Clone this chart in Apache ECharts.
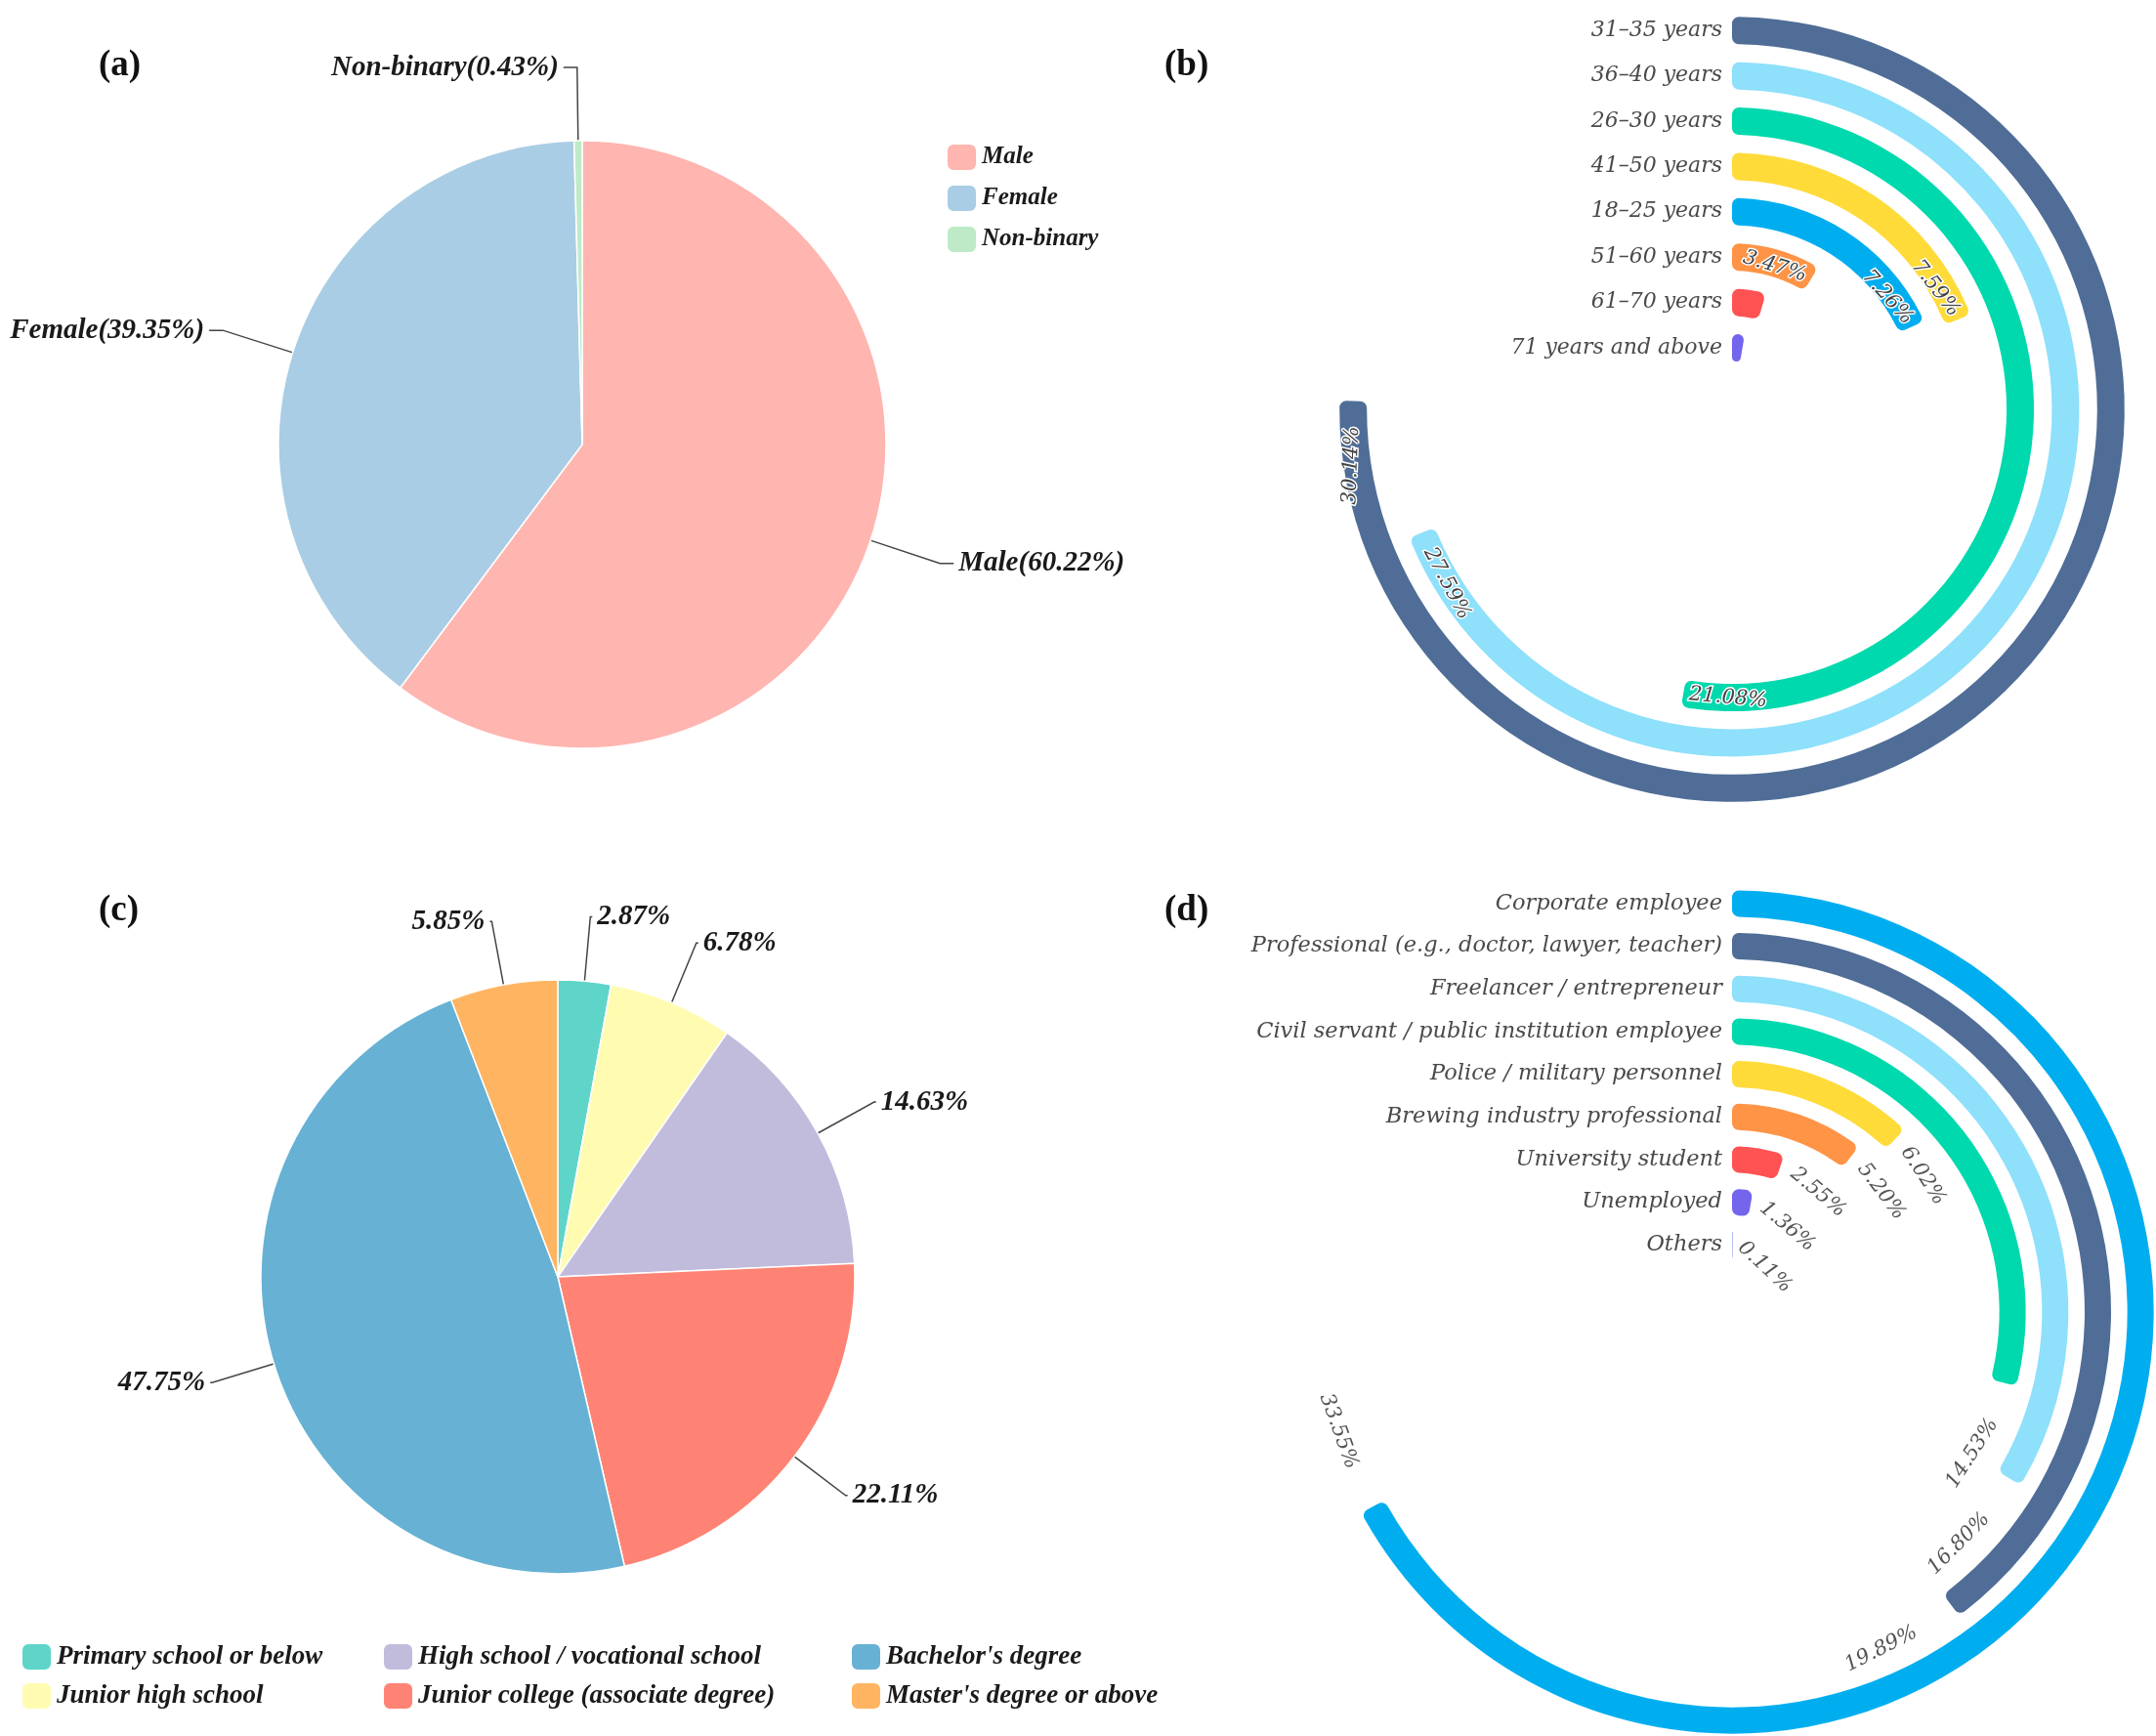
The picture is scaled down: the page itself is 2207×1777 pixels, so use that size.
<!DOCTYPE html>
<html>
<head>
<meta charset="utf-8">
<script src="https://cdn.jsdelivr.net/npm/echarts@6/dist/echarts.min.js"></script>
<style>
html,body{margin:0;padding:0;background:#fff;}
#chart{width:2207px;height:1777px;}
</style>
</head>
<body>
<div id="chart"></div>
<script>
// ---- Panel (a): gender ----
const genderNames = ['Male', 'Female', 'Non-binary'];
const genderValues = [60.22, 39.35, 0.43];
const genderColors = ['#ffb5b0', '#a9cde4', '#bfeac7'];

// ---- Panel (b): age ----
const ageNames = ['31–35 years', '36–40 years', '26–30 years', '41–50 years', '18–25 years', '51–60 years', '61–70 years', '71 years and above'];
const ageValues = [30.14, 27.59, 21.08, 7.59, 7.26, 3.47, 1.81, 1.07];
const ageColors = ['#4f6d96', '#8ee0fb', '#00d9ad', '#ffdb3a', '#00aef0', '#ff9446', '#ff5252', '#7366ed'];
const ageLabelShown = [true, true, true, true, true, true, false, false];
// label styling (rotation in degrees, alignment, distance)
const ageLabelRotate = [88, -62, -5, -52, -48, -17, 0, 0];
const ageLabelAlign = ['right', 'left', 'left', 'right', 'right', 'right', 'right', 'right'];
const ageLabelDistance = [26, 18, 6, 6, 6, 6, 6, 6];

// ---- Panel (c): education ----
const eduNames = ['Primary school or below', 'Junior high school', 'High school / vocational school', 'Junior college (associate degree)', "Bachelor's degree", "Master's degree or above"];
const eduValues = [2.87, 6.78, 14.63, 22.11, 47.75, 5.85];
const eduColors = ['#5ed5c8', '#fffcb1', '#c1bcdc', '#ff8374', '#66b1d4', '#ffb462'];

// ---- Panel (d): occupation ----
const occNames = ['Corporate employee', 'Professional (e.g., doctor, lawyer, teacher)', 'Freelancer / entrepreneur', 'Civil servant / public institution employee', 'Police / military personnel', 'Brewing industry professional', 'University student', 'Unemployed', 'Others'];
const occValues = [33.55, 19.89, 16.80, 14.53, 6.02, 5.20, 2.55, 1.36, 0.11];
const occColors = ['#00aef0', '#4f6d96', '#8ee0fb', '#00d9ad', '#ffdb3a', '#ff9446', '#ff5252', '#7366ed', '#b6bcf5'];
const occLabelRotate = [-70, 27, 45, 57, -57, -53, -40, -40, -43];
const occLabelAlign = ['right', 'right', 'right', 'right', 'left', 'left', 'left', 'left', 'left'];
const occLabelDistance = [45, 45, 45, 40, 14, 14, 14, 12, 8];

const serifBI = {fontFamily: 'Liberation Serif', fontWeight: 'bold', fontStyle: 'italic', color: '#1a1a1a'};
const catFont = {fontFamily: 'DejaVu Serif', fontStyle: 'italic', color: '#4a4a4a'};

const chart = echarts.init(document.getElementById('chart'), null, {renderer: 'canvas'});

const pct = v => v.toFixed(2) + '%';
const rad = d => d * Math.PI / 180;

const legendBase = {
  orient: 'vertical', itemWidth: 31, itemHeight: 28, itemGap: 10, icon: 'roundRect', padding: 0,
  textStyle: Object.assign({fontSize: 27}, serifBI)
};

const option = {
  backgroundColor: '#fff',
  animation: false,
  title: [
    {text: '(a)', left: 96, top: 44},
    {text: '(b)', left: 1187, top: 44},
    {text: '(c)', left: 96, top: 909},
    {text: '(d)', left: 1187, top: 909}
  ].map(t => Object.assign(t, {textStyle: {fontFamily: 'Liberation Serif', fontWeight: 'bold', fontSize: 37, color: '#111'}})),
  legend: [
    Object.assign({}, legendBase, {data: genderNames, left: 968, top: 146, itemGap: 12,
      textStyle: Object.assign({fontSize: 25}, serifBI)}),
    Object.assign({}, legendBase, {data: [eduNames[0], eduNames[1]], left: 21, top: 1681}),
    Object.assign({}, legendBase, {data: [eduNames[2], eduNames[3]], left: 391, top: 1681}),
    Object.assign({}, legendBase, {data: [eduNames[4], eduNames[5]], left: 870, top: 1681})
  ],
  polar: [
    {center: [1773, 419], radius: [40, 411]},
    {center: [1773, 1343], radius: [47, 440]}
  ],
  angleAxis: [
    {polarIndex: 0, type: 'value', min: 0, max: 40, startAngle: 90, clockwise: true, show: false},
    {polarIndex: 1, type: 'value', min: 0, max: 50, startAngle: 90, clockwise: true, show: false}
  ],
  radiusAxis: [
    {polarIndex: 0, type: 'category', data: ageNames, inverse: true,
     axisLine: {show: false}, axisTick: {show: false}, splitLine: {show: false},
     axisLabel: Object.assign({margin: 10, interval: 0, fontSize: 22}, catFont), z: 10},
    {polarIndex: 1, type: 'category', data: occNames, inverse: true,
     axisLine: {show: false}, axisTick: {show: false}, splitLine: {show: false},
     axisLabel: Object.assign({margin: 10, interval: 0, fontSize: 22.5}, catFont), z: 10}
  ],
  series: [
    {
      name: 'gender', type: 'pie', center: [596, 455], radius: 311,
      startAngle: 90, clockwise: true,
      data: genderNames.map((n, i) => ({name: n, value: genderValues[i], itemStyle: {color: genderColors[i]}})),
      itemStyle: {borderColor: '#fff', borderWidth: 1.5},
      label: Object.assign({fontSize: 29, formatter: p => p.name + '(' + pct(p.value) + ')'}, serifBI),
      labelLine: {length: 75, length2: 14, lineStyle: {color: '#444', width: 1.5}},
      avoidLabelOverlap: false
    },
    {
      name: 'education', type: 'pie', center: [571, 1307], radius: 304,
      startAngle: 90, clockwise: true,
      data: eduNames.map((n, i) => ({name: n, value: eduValues[i], itemStyle: {color: eduColors[i]}})),
      itemStyle: {borderColor: '#fff', borderWidth: 1.5},
      label: Object.assign({fontSize: 29, formatter: p => pct(p.value)}, serifBI),
      labelLine: {length: 66, length2: 2, lineStyle: {color: '#444', width: 1.5}},
      avoidLabelOverlap: false
    },
    {
      name: 'age', type: 'bar', coordinateSystem: 'polar', polarIndex: 0,
      barWidth: 28,
      data: ageValues.map((v, i) => ({
        value: v, itemStyle: {color: ageColors[i]},
        label: {show: ageLabelShown[i], rotate: rad(ageLabelRotate[i]), align: ageLabelAlign[i], distance: ageLabelDistance[i]}
      })),
      itemStyle: {borderRadius: 7},
      label: {
        show: true, position: 'insideEnd', formatter: p => pct(p.value),
        fontFamily: 'DejaVu Serif', fontStyle: 'italic', fontSize: 21,
        color: '#444', textBorderColor: '#fff', textBorderWidth: 3
      }
    },
    {
      name: 'occupation', type: 'bar', coordinateSystem: 'polar', polarIndex: 1,
      barWidth: 27,
      data: occValues.map((v, i) => ({
        value: v, itemStyle: {color: occColors[i]},
        label: {rotate: rad(occLabelRotate[i]), align: occLabelAlign[i], distance: occLabelDistance[i]}
      })),
      itemStyle: {borderRadius: 7},
      label: {
        show: true, position: 'end', formatter: p => pct(p.value),
        fontFamily: 'DejaVu Serif', fontStyle: 'italic', fontSize: 21, color: '#555'
      }
    }
  ]
};
chart.setOption(option);
</script>
</body>
</html>
